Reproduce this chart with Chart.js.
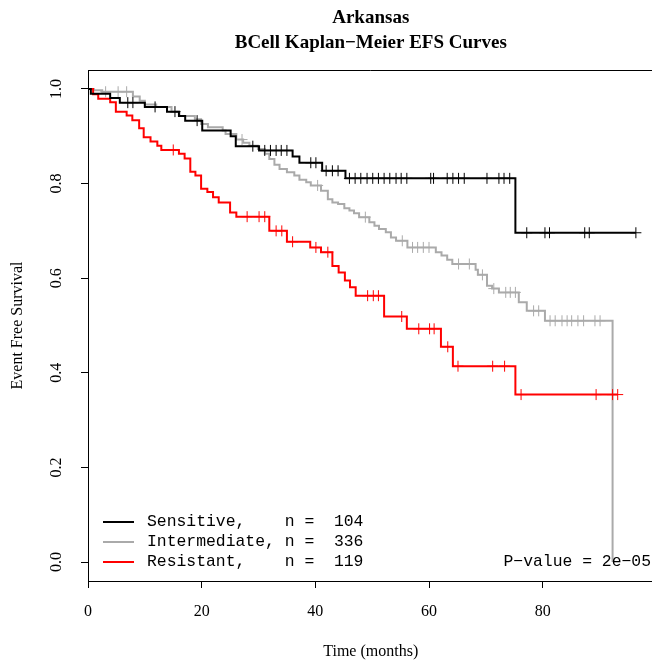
<!DOCTYPE html>
<html lang="en">
<head>
<meta charset="UTF-8">
<title>Arkansas BCell Kaplan-Meier EFS Curves</title>
<script src="https://cdn.jsdelivr.net/npm/chart.js"></script>
<style>
  html, body { margin: 0; padding: 0; overflow: hidden; background: #fff; }
</style>
</head>
<body>
<canvas id="kmChart" width="660" height="664"></canvas>
<script>
// Sensitive: step times (months), survival after each step, censored times
const sensTimes = [0, 0.5, 3.9, 5.6, 10.0, 13.9, 16.0, 17.1, 20.1, 25.1, 26.0, 30.1, 36.0, 37.2, 41.2, 45.3, 75.2, 96.4];
const sensSurv  = [1.0, 0.990, 0.981, 0.971, 0.962, 0.952, 0.943, 0.933, 0.912, 0.900, 0.879, 0.870, 0.857, 0.844, 0.827, 0.811, 0.696, 0.696];
const sensCensor = [7.0, 7.9, 11.8, 15.3, 19.2, 29.0, 31.1, 32.1, 33.1, 34.0, 35.0, 39.2, 40.1, 41.9, 43.0, 44.0,
  46.0, 47.0, 48.0, 49.1, 50.1, 51.1, 52.1, 53.1, 54.2, 55.1, 56.1, 60.3, 60.8, 63.2, 64.2, 65.2, 66.2,
  70.2, 72.3, 73.2, 74.2, 77.2, 80.4, 81.2, 87.4, 88.2, 96.4];

// Intermediate
const interTimes = [0, 1.0, 2.5, 7.9, 9.1, 10.0, 12.0, 14.7, 16.1, 18.8, 19.9, 21.1, 23.7, 24.2, 26.1, 27.3, 28.4, 29.9,
  31.1, 31.9, 32.8, 33.7, 35.0, 36.3, 37.2, 38.4, 39.2, 41.0, 42.2, 43.0, 44.0, 45.1, 46.0, 46.8, 47.7, 49.5,
  50.4, 51.2, 52.4, 53.3, 54.2, 56.2, 61.2, 62.2, 63.2, 64.1, 68.2, 68.6, 70.2, 71.1, 72.3, 75.8, 77.2, 80.4, 92.3];
const interSurv  = [1.0, 0.997, 0.994, 0.984, 0.975, 0.967, 0.962, 0.952, 0.943, 0.936, 0.926, 0.919, 0.912, 0.905, 0.893, 0.886, 0.880, 0.873,
  0.863, 0.852, 0.840, 0.831, 0.824, 0.817, 0.808, 0.803, 0.796, 0.785, 0.767, 0.760, 0.757, 0.748, 0.743, 0.737, 0.729, 0.718,
  0.711, 0.704, 0.697, 0.686, 0.679, 0.665, 0.655, 0.648, 0.639, 0.630, 0.618, 0.607, 0.584, 0.578, 0.570, 0.549, 0.531, 0.510, 0.0];
const interCensor = [3.1, 5.3, 6.8, 27.1, 40.4, 48.8, 55.3, 57.1, 58.0, 59.0, 60.0, 65.2, 67.1, 69.4, 71.4, 73.5, 74.3, 75.2,
  78.4, 79.3, 81.3, 82.2, 83.4, 84.3, 85.1, 86.2, 87.2, 89.2, 90.1];

// Resistant
const resTimes = [0, 0.9, 1.8, 3.9, 4.9, 6.8, 7.8, 9.0, 9.8, 11.0, 12.2, 12.9, 16.0, 17.0, 18.0, 18.9, 19.9, 21.0, 22.0, 23.0,
  25.0, 26.1, 31.9, 35.0, 39.1, 41.0, 43.0, 44.1, 45.2, 46.1, 47.1, 52.1, 56.1, 62.1, 64.2, 75.2, 93.2];
const resSurv  = [1.0, 0.989, 0.979, 0.972, 0.952, 0.944, 0.934, 0.917, 0.898, 0.889, 0.880, 0.871, 0.863, 0.853, 0.825, 0.817, 0.789, 0.782, 0.771, 0.760,
  0.739, 0.730, 0.700, 0.677, 0.665, 0.655, 0.626, 0.612, 0.595, 0.581, 0.563, 0.519, 0.493, 0.455, 0.414, 0.354, 0.354];
const resCensor = [15.0, 28.0, 30.1, 31.1, 33.1, 34.1, 36.0, 40.1, 42.2, 49.2, 50.2, 51.1, 55.2, 58.2, 60.1, 60.9, 63.3,
  65.1, 71.2, 73.3, 76.2, 89.4, 92.3, 93.2];

const groupNames = ['Sensitive', 'Intermediate', 'Resistant'];
const groupN = [104, 336, 119];
const groupColors = ['#000000', '#aaaaaa', '#ff0000'];
const pValue = '2e\u221205';

const xTicks = [0, 20, 40, 60, 80];
const yTicks = [0, 0.2, 0.4, 0.6, 0.8, 1.0];
const yTickLabels = ['0.0', '0.2', '0.4', '0.6', '0.8', '1.0'];

const SERIF = '"Liberation Serif", "DejaVu Serif", serif';
const MONO = '"Liberation Mono", "DejaVu Sans Mono", monospace';

// survival level of a step curve at time t
function survAt(times, surv, t) {
  let s = surv[0];
  for (let i = 0; i < times.length; i++) {
    if (times[i] <= t) s = surv[i];
  }
  return s;
}

function curve(times, surv, color) {
  return {
    data: times.map((t, i) => ({ x: t, y: surv[i] })),
    borderColor: color,
    borderWidth: 2,
    stepped: 'before',
    pointRadius: 0,
    fill: false
  };
}

function censorMarks(times, surv, cens, color) {
  return {
    data: cens.map(t => ({ x: t, y: survAt(times, surv, t) })),
    showLine: false,
    pointStyle: 'cross',
    pointRadius: 5.5,
    pointBorderWidth: 1,
    pointBorderColor: color,
    borderColor: color
  };
}

// first dataset ends up on top, so black goes first
const datasets = [
  curve(sensTimes, sensSurv, groupColors[0]),
  censorMarks(sensTimes, sensSurv, sensCensor, groupColors[0]),
  curve(resTimes, resSurv, groupColors[2]),
  censorMarks(resTimes, resSurv, resCensor, groupColors[2]),
  curve(interTimes, interSurv, groupColors[1]),
  censorMarks(interTimes, interSurv, interCensor, groupColors[1])
];

// base-graphics style text: titles, rotated y labels, legend box
const rText = {
  id: 'rText',
  afterDraw(chart) {
    const ctx = chart.ctx;
    const area = chart.chartArea;
    const xs = chart.scales.x;
    const ys = chart.scales.y;
    const midX = (area.left + area.right) / 2;

    ctx.save();
    // top edge of the box
    ctx.strokeStyle = '#000';
    ctx.lineWidth = 1;
    ctx.beginPath();
    ctx.moveTo(area.left, Math.round(area.top) + 0.5);
    ctx.lineTo(area.right, Math.round(area.top) + 0.5);
    ctx.stroke();

    ctx.fillStyle = '#000';
    ctx.textAlign = 'center';
    ctx.textBaseline = 'middle';

    ctx.font = 'bold 19px ' + SERIF;
    ctx.fillText('Arkansas', midX, 18);
    ctx.fillText('BCell Kaplan\u2212Meier EFS Curves', midX, 43);

    ctx.font = '16px ' + SERIF;
    xTicks.forEach(v => ctx.fillText(String(v), xs.getPixelForValue(v), 612));
    ctx.fillText('Time (months)', midX, 652);

    yTicks.forEach((v, i) => {
      ctx.save();
      ctx.translate(57, ys.getPixelForValue(v));
      ctx.rotate(-Math.PI / 2);
      ctx.fillText(yTickLabels[i], 0, 0);
      ctx.restore();
    });
    ctx.save();
    ctx.translate(18, (area.top + area.bottom) / 2);
    ctx.rotate(-Math.PI / 2);
    ctx.fillText('Event Free Survival', 0, 0);
    ctx.restore();

    // legend
    ctx.font = '16.4px ' + MONO;
    ctx.textAlign = 'left';
    groupNames.forEach((name, i) => {
      const y = 522 + i * 20;
      ctx.strokeStyle = groupColors[i];
      ctx.lineWidth = 2;
      ctx.beginPath();
      ctx.moveTo(103, y);
      ctx.lineTo(134, y);
      ctx.stroke();
      const label = (name + ',').padEnd(14) + 'n = ' + String(groupN[i]).padStart(4);
      ctx.fillText(label, 147, y);
    });
    ctx.textAlign = 'right';
    ctx.fillText('P\u2212value = ' + pValue, 651, 562);
    ctx.restore();
  }
};

new Chart(document.getElementById('kmChart').getContext('2d'), {
  type: 'line',
  data: { datasets: datasets },
  options: {
    responsive: false,
    animation: false,
    events: [],
    layout: { padding: { top: 70, right: 3, left: 0, bottom: 0 } },
    plugins: {
      legend: { display: false },
      title: { display: false },
      tooltip: { enabled: false }
    },
    scales: {
      x: {
        type: 'linear',
        min: 0,
        max: 99.5,
        afterBuildTicks: s => { s.ticks = xTicks.map(v => ({ value: v })); },
        afterFit: s => { s.height = 83; },
        ticks: { display: false },
        grid: { drawOnChartArea: false, drawTicks: true, tickLength: 7, color: '#000' },
        border: { display: true, color: '#000', width: 1 }
      },
      y: {
        type: 'linear',
        min: -0.04,
        max: 1.04,
        afterBuildTicks: s => { s.ticks = yTicks.map(v => ({ value: v })); },
        afterFit: s => { s.width = 88; },
        ticks: { display: false },
        grid: { drawOnChartArea: false, drawTicks: true, tickLength: 7, color: '#000' },
        border: { display: true, color: '#000', width: 1 }
      }
    }
  },
  plugins: [rText]
});
</script>
</body>
</html>
